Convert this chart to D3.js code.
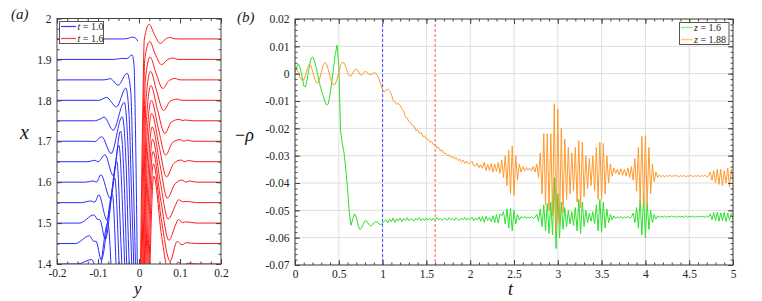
<!DOCTYPE html>
<html>
<head>
<meta charset="utf-8">
<script src="https://cdn.jsdelivr.net/npm/d3@7"></script>
<style>
body { margin: 0; background: #fff; }
svg { display: block; }
svg text { font-family: 'Liberation Serif', 'Times New Roman', Times, serif; }
</style>
</head>
<body>
<svg width="762" height="301"></svg>
<script>
// ---------- panel (a): profiles, [y, dx] in units of 0.01 ----------
const levels = [1.95, 1.9, 1.85, 1.8, 1.75, 1.7, 1.65, 1.6, 1.55, 1.5, 1.45, 1.4];

const blueProfiles = [
    [[-20,0],[-4,0],[-2.6,0.15],[-1.6,0.45],[-0.9,0.25],[-0.3,-0.5]],
    [[-20,0],[-6,0],[-4.2,0.25],[-3,0.2],[-1.7,1.1],[-1.2,-1.5],[-0.9,-15],[-0.3,-60]],
    [[-20,0],[-8.5,0],[-7,0.3],[-5.1,-1.3],[-2.9,1.6],[-2,-3],[-1.5,-20],[-0.5,-60]],
    [[-20,0],[-9.8,0],[-7.9,0.7],[-5.5,-1.6],[-3.2,3],[-2.4,-4],[-1.9,-20],[-0.7,-60]],
    [[-20,0],[-11,0],[-9.5,0.4],[-8.5,0.9],[-6.3,-2.3],[-3.6,4.5],[-2.7,-6],[-2.2,-22],[-0.9,-60]],
    [[-20,0],[-12,0],[-10.8,-0.1],[-9.1,1.1],[-6.8,-3],[-4.1,6],[-3.1,-7],[-2.6,-24],[-1,-60]],
    [[-20,0],[-12.5,0],[-10.8,0.35],[-10,0],[-8.3,1.7],[-6.3,-3.4],[-4.5,7.5],[-3.5,-8],[-3,-25],[-1.1,-60]],
    [[-20,0],[-13,0],[-11.2,0.3],[-10.4,0],[-9.3,1.8],[-7,-4],[-4.9,9],[-3.9,-9],[-3.3,-26],[-1.2,-60]],
    [[-20,0],[-14,0],[-11.8,0.4],[-10.8,0.1],[-9.8,1.9],[-7.8,-4.3],[-5.4,10],[-4.4,-10],[-3.7,-27],[-1.3,-60]],
    [[-20,0],[-14.5,0],[-11,2],[-10,0.8],[-9.6,0.9],[-8.2,-4],[-5.9,11],[-4.8,-11],[-4,-28],[-1.4,-60]],
    [[-20,0],[-15.5,0],[-12.1,1.9],[-11,0.5],[-10.5,0.6],[-9.2,-4],[-6.5,12],[-5.3,-12],[-4.4,-28],[-1.5,-60]],
    [[-20,0],[-15,0],[-11.5,1.1],[-10,-3],[-7.6,10],[-6.2,-13],[-5,-30],[-1.6,-60]]
];

const redProfiles = [
    [[0.3,-60],[0.8,-25],[1.3,0],[2.5,3.6],[3.7,1.2],[5.2,-1.1],[6.4,-0.1],[7.5,0.4],[8.6,0.05],[10,0],[20,0]],
    [[0.4,-60],[0.9,-25],[1.4,0],[2.6,4.4],[3.9,1.4],[5.5,-1.3],[6.9,-0.1],[8.3,0.35],[9.5,0],[11,0],[20,0]],
    [[0.55,-60],[1.05,-25],[1.55,0],[2.7,5.6],[4.1,1.8],[5.8,-2.1],[7.3,-0.2],[8.8,0.35],[10,0],[12,0],[20,0]],
    [[0.7,-60],[1.2,-25],[1.7,0],[2.8,7.1],[4.3,2.3],[6,-2.5],[7.6,-0.2],[9.3,0.3],[10.4,0],[12,0],[20,0]],
    [[0.8,-60],[1.3,-25],[1.8,0],[2.9,8.6],[4.5,2.7],[6.3,-3.1],[7.9,-0.3],[9.8,0.35],[10.7,0.05],[11.3,0.2],[13,0],[20,0]],
    [[0.9,-60],[1.4,-25],[1.9,0],[3,10],[4.7,3.2],[6.5,-3.4],[8.2,-0.3],[10,0.4],[11,0],[11.7,0.3],[13,0],[20,0]],
    [[1,-60],[1.5,-25],[2,0],[3.1,11.8],[4.9,3.8],[6.7,-3.7],[8.5,-0.4],[10.2,0.4],[11.2,0],[12,0.3],[14,0],[20,0]],
    [[1.15,-60],[1.65,-25],[2.15,0],[3.2,13.5],[5.1,4.3],[6.9,-3.9],[8.8,-0.4],[10.5,0.5],[11.5,0],[12.3,0.3],[14,0],[20,0]],
    [[1.3,-60],[1.8,-25],[2.3,0],[3.3,15.5],[5.2,5],[7.1,-4],[9,-0.4],[9.6,0.7],[10.8,0.2],[11.8,0.3],[14,0],[20,0]],
    [[1.45,-60],[1.95,-25],[2.45,0],[3.4,17.5],[5.3,5.6],[7.3,-4.2],[8.9,-0.5],[9.6,0.9],[10.6,0.1],[11.5,0.3],[14,0],[20,0]],
    [[1.6,-60],[2.1,-25],[2.6,0],[3.5,19.5],[5.4,6.2],[7.6,-4.3],[9.3,0.5],[10.5,-0.3],[11.5,0.2],[14,0],[20,0]],
    [[1.7,-60],[2.2,-25],[2.7,0],[3.6,21.5],[5.5,6.9],[7.8,-4.3],[9.5,0.5],[10.8,-0.3],[12,0.2],[14,0],[20,0]]
];

const aTicksX = [-0.2, -0.1, 0, 0.1, 0.2];
const aTickLabelsX = ["-0.2", "-0.1", "0", "0.1", "0.2"];
const aTicksY = [1.4, 1.5, 1.6, 1.7, 1.8, 1.9, 2.0];
const aTickLabelsY = ["1.4", "1.5", "1.6", "1.7", "1.8", "1.9", "2"];

// ---------- panel (b): -rho(t), sampled every 0.02, in units of 0.001 ----------
const tStep = 0.02;
const rhoZ16 = [
    0.5, 2.5, 3.5, 2, -1, -4.5, -4.8, -2, 2, 5.2,
    6.2, 5, 2.5, -0.5, -3.5, -6, -8, -10, -11.5, -11,
    -7.5, -3, 2, 7, 10.5, 3, -21, -25.5, -29, -35,
    -42, -51, -55.5, -53, -51.3, -52.5, -55.5, -57, -56.5, -55,
    -53.8, -54, -55, -55.7, -55.5, -54.6, -54.1, -54.3, -55, -55.2,
    -54.8, -54, -53.5, -54.6, -53.2, -54.2, -52.8, -54.4, -53.1, -53.9,
    -52.8, -54.1, -53, -53.7, -52.7, -53.8, -53.1, -53.3, -53.9, -52.9,
    -53.6, -52.7, -53.8, -53, -53.7, -52.8, -53.6, -52.9, -53.8, -52.8,
    -53.5, -52.6, -53.6, -52.9, -53.7, -53, -53.2, -53.6, -52.7, -53.5,
    -52.9, -53.7, -52.7, -53.4, -53.6, -52.8, -53.5, -52.6, -53.6, -52.9,
    -53.4, -52.5, -53.8, -52.8, -53.5, -52.4, -54, -52.3, -54.4, -52.2,
    -53.7, -52.6, -54.1, -52, -54.5, -51.6, -54.7, -51.3, -52, -50.5,
    -55, -49.5, -56.5, -49.3, -57.5, -50, -55, -51.5, -53.5, -52.3,
    -52.8, -52.2, -53, -52.4, -52.9, -52.3, -53, -52.5, -51.5, -54,
    -49.5, -56, -48, -57.5, -47.5, -58.5, -47, -59, -38, -64,
    -44, -60, -47, -57, -49, -56, -50, -55, -50.5, -55.5,
    -49, -57.5, -46, -58.5, -47, -56, -50, -54.5, -51, -54,
    -50.5, -55, -48, -57.5, -46, -58, -47, -56.5, -49.5, -54.5,
    -51.5, -53.5, -52, -53, -52.3, -52.8, -52.2, -52.9, -52.4, -52.7,
    -52.2, -52.9, -52.4, -51, -54.5, -49, -56.5, -46, -59, -44,
    -60, -47, -57, -50, -54.5, -51.5, -53.2, -52, -52.6, -52.2,
    -52.5, -52.1, -52.6, -52.2, -52.4, -52, -52.5, -52.2, -52.6, -52.1,
    -52.4, -52.2, -52.6, -52, -52.5, -52.3, -52.4, -52.1, -52.6, -52.2,
    -52.5, -52.1, -52.4, -52.2, -52.6, -52, -52.5, -51.3, -53.4, -50.8,
    -53.8, -50.7, -54, -50.9, -53.8, -50.8, -54.1, -51, -53.6, -51.2,
    -53
];
const rhoZ188 = [
    1, 1.5, 0.5, -1.5, -2.5, -2.3, -0.5, 1.8, 3.3, 3,
    1, -1.5, -3.2, -3.5, -2, 0.5, 3, 4.1, 3.5, 1.5,
    -1, -3.2, -4.1, -3.8, -2, 0.5, 3, 4.1, 4, 2.5,
    0.5, -0.8, -0.9, 0.2, 1.4, 1.7, 1, -0.3, -0.6, 0.2,
    0.8, 0.6, -0.1, -0.4, -0.1, 0.3, 0.2, -0.6, -2, -4,
    -6, -6.8, -6, -5.6, -6.2, -7.5, -9.8, -10.3, -11.2, -10.9,
    -11.5, -12.8, -13.6, -15.8, -16.2, -17.5, -17.9, -19, -19.2, -20.8,
    -20.5, -21.8, -21.6, -23, -22.8, -23.9, -24, -25, -24.8, -26,
    -25.8, -27.2, -26.9, -28.3, -27.9, -29.2, -29.1, -30, -29.8, -30.6,
    -30.3, -31.2, -30.7, -31.8, -31.2, -32.4, -31.6, -32.8, -32.1, -33,
    -32.6, -32, -33.6, -33.8, -32.8, -34.4, -33.3, -34.7, -32.4, -35.4,
    -33.2, -35.5, -32.8, -36, -33, -35.8, -32.5, -36.5, -31.5, -38,
    -30, -41, -28, -44, -26.5, -44.5, -30, -39, -33, -36,
    -34, -35.5, -34.3, -35.3, -34.5, -35.5, -34, -36, -33, -38,
    -29, -44, -22, -48, -22, -50, -22, -52, -11, -58,
    -13, -55, -20, -51, -24, -46, -27, -44, -29, -43,
    -27, -47, -24.5, -49, -25, -45, -30, -42, -31, -41,
    -30, -43, -27, -46, -25, -46, -25.5, -44, -30, -40,
    -33, -37.5, -34.5, -36.5, -35, -37, -34.8, -37.2, -35, -37.5,
    -34.5, -38, -34, -39, -31, -43, -27, -47, -23, -49,
    -22.7, -48, -27, -44, -33, -39.5, -36, -38, -37, -37.8,
    -37.2, -37.8, -37.3, -37.6, -37.1, -37.7, -37.3, -37.5, -37.2, -37.8,
    -37.3, -37.6, -37.2, -37.7, -37.4, -37.5, -37.1, -37.8, -37.3, -37.6,
    -37.2, -37.7, -37.3, -37.6, -37.1, -37.8, -37.4, -36, -39, -35.5,
    -40, -35, -40.5, -35, -41, -35.5, -40, -34.5, -41.5, -35,
    -39
];
const markerTimes = [1.0, 1.6];

const bTicksX = [0, 0.5, 1, 1.5, 2, 2.5, 3, 3.5, 4, 4.5, 5];
const bTickLabelsX = ["0", "0.5", "1", "1.5", "2", "2.5", "3", "3.5", "4", "4.5", "5"];
const bTicksY = [0.02, 0.01, 0, -0.01, -0.02, -0.03, -0.04, -0.05, -0.06, -0.07];
const bTickLabelsY = ["0.02", "0.01", "0", "-0.01", "-0.02", "-0.03", "-0.04", "-0.05", "-0.06", "-0.07"];

const svg = d3.select("svg");
const serif = "'Liberation Serif', 'Times New Roman', Times, serif";
const frameColor = "#444";
const labelColor = "#222";

// frame with inward ticks on all four sides
function drawFrame(g, xs, ys, xMajor, xLabels, xMinor, yMajor, yLabels, yMinor) {
    const [x0, x1] = xs.range();
    const [y0, y1] = ys.range();
    const fmt = (arr, labels) => (d) => labels[arr.indexOf(d)];

    const axes = [
        [d3.axisBottom(xs), `translate(0,${y0})`, xMajor, xMinor, fmt(xMajor, xLabels), 5],
        [d3.axisTop(xs), `translate(0,${y1})`, xMajor, xMinor, "", 5],
        [d3.axisLeft(ys), `translate(${x0},0)`, yMajor, yMinor, fmt(yMajor, yLabels), 5.5],
        [d3.axisRight(ys), `translate(${x1},0)`, yMajor, yMinor, "", 5]
    ];
    axes.forEach(([axis, tr, major, minor, f, pad]) => {
        g.append("g").attr("transform", tr)
            .call(axis.tickValues(minor).tickSize(-2.5).tickFormat(""));
        g.append("g").attr("transform", tr)
            .call(axis.tickValues(major).tickSize(-5).tickPadding(pad).tickFormat(f));
    });
    g.selectAll(".domain").remove();
    g.selectAll("g").attr("font-family", serif);
    g.selectAll(".tick line").attr("stroke", frameColor);
    g.selectAll(".tick text")
        .attr("fill", labelColor)
        .attr("font-size", 11.5)
        .attr("font-family", serif);

    g.append("rect")
        .attr("x", x0).attr("y", y1)
        .attr("width", x1 - x0).attr("height", y0 - y1)
        .attr("fill", "none")
        .attr("stroke", frameColor)
        .attr("stroke-width", 1);
}

function minorTicks(lo, hi, step) {
    return d3.range(Math.round((hi - lo) / step) + 1).map(i => lo + i * step);
}

// ================= panel (a) =================
const ax = d3.scaleLinear().domain([-0.2, 0.2]).range([57, 221]);
const ay = d3.scaleLinear().domain([1.4, 2.0]).range([264, 18.5]);

const ga = svg.append("g");
svg.append("clipPath").attr("id", "clipA")
    .append("rect")
    .attr("x", 57).attr("y", 18.5).attr("width", 164).attr("height", 245.5);

const profileLine = (level) => d3.line()
    .x(d => ax(d[0] / 100))
    .y(d => ay(level + d[1] / 100))
    .curve(d3.curveMonotoneX);

const curvesA = ga.append("g").attr("clip-path", "url(#clipA)").attr("fill", "none").attr("stroke-width", 1);

curvesA.selectAll("path.blue")
    .data(blueProfiles)
    .join("path")
    .attr("class", "blue")
    .attr("stroke", "#2b2bff")
    .attr("d", (d, i) => profileLine(levels[i])(d));

curvesA.selectAll("path.red")
    .data(redProfiles)
    .join("path")
    .attr("class", "red")
    .attr("stroke", "#ff1a1a")
    .attr("d", (d, i) => profileLine(levels[i])(d));

drawFrame(ga, ax, ay,
    aTicksX, aTickLabelsX, minorTicks(-0.2, 0.2, 0.025),
    aTicksY, aTickLabelsY, minorTicks(1.4, 2.0, 0.025));

// legend (a)
const legA = ga.append("g");
legA.append("rect")
    .attr("x", 59.5).attr("y", 21.5).attr("width", 44).attr("height", 22)
    .attr("fill", "#fff").attr("stroke", "#555");
[["#3b3bff", 26.5, "1.0"], ["#ff4040", 38.5, "1.6"]].forEach(([c, y, v]) => {
    legA.append("line").attr("x1", 61).attr("x2", 76).attr("y1", y).attr("y2", y)
        .attr("stroke", c).attr("stroke-width", 1.2);
    const tx = legA.append("text").attr("x", 77.5).attr("y", y + 3.3)
        .attr("font-size", 10).attr("fill", "#222");
    tx.append("tspan").attr("font-style", "italic").text("t");
    tx.append("tspan").text(" = " + v);
});

ga.append("text").attr("x", 11).attr("y", 19).attr("font-size", 15).attr("font-style", "italic")
    .attr("fill", "#222").text("(a)");
ga.append("text").attr("x", 20).attr("y", 139).attr("font-size", 20).attr("font-style", "italic")
    .attr("fill", "#111").text("x");
ga.append("text").attr("x", 134).attr("y", 294).attr("font-size", 17).attr("font-style", "italic")
    .attr("fill", "#111").text("y");

// ================= panel (b) =================
const bx = d3.scaleLinear().domain([0, 5]).range([295, 733]);
const by = d3.scaleLinear().domain([-0.07, 0.02]).range([265, 19]);

const gb = svg.append("g");
svg.append("clipPath").attr("id", "clipB")
    .append("rect")
    .attr("x", 295).attr("y", 19).attr("width", 438).attr("height", 246);

// grid
gb.append("g").selectAll("line")
    .data(bTicksX)
    .join("line")
    .attr("x1", d => bx(d)).attr("x2", d => bx(d))
    .attr("y1", 19).attr("y2", 265)
    .attr("stroke", "#dedede");
gb.append("g").selectAll("line")
    .data(bTicksY)
    .join("line")
    .attr("x1", 295).attr("x2", 733)
    .attr("y1", d => by(d)).attr("y2", d => by(d))
    .attr("stroke", "#dedede");

// marker lines
gb.append("g").selectAll("line")
    .data(markerTimes)
    .join("line")
    .attr("x1", d => bx(d)).attr("x2", d => bx(d))
    .attr("y1", 19).attr("y2", 265)
    .attr("stroke", (d, i) => i === 0 ? "#4a4aff" : "#ff5a5a")
    .attr("stroke-width", 1)
    .attr("stroke-dasharray", "3,2");

const rhoLine = d3.line()
    .x((d, i) => bx(i * tStep))
    .y(d => by(d / 1000));

const seriesB = gb.append("g").attr("clip-path", "url(#clipB)").attr("fill", "none").attr("stroke-width", 1);
seriesB.append("path").attr("stroke", "#2fe02f").attr("d", rhoLine(rhoZ16));
seriesB.append("path").attr("stroke", "#ff9a2e").attr("d", rhoLine(rhoZ188));

drawFrame(gb, bx, by,
    bTicksX, bTickLabelsX, minorTicks(0, 5, 0.1),
    bTicksY, bTickLabelsY, minorTicks(-0.07, 0.02, 0.002));

// legend (b)
const legB = gb.append("g");
legB.append("rect")
    .attr("x", 679.5).attr("y", 22.5).attr("width", 49.5).attr("height", 22)
    .attr("fill", "#fff").attr("stroke", "#555");
[["#8ff08f", 27.5, "1.6"], ["#ffc896", 39.5, "1.88"]].forEach(([c, y, v]) => {
    legB.append("line").attr("x1", 681).attr("x2", 693).attr("y1", y).attr("y2", y)
        .attr("stroke", c).attr("stroke-width", 1.5);
    const tx = legB.append("text").attr("x", 694).attr("y", y + 3.3)
        .attr("font-size", 10).attr("fill", "#222");
    tx.append("tspan").attr("font-style", "italic").text("z");
    tx.append("tspan").text(" = " + v);
});

gb.append("text").attr("x", 237).attr("y", 22).attr("font-size", 15).attr("font-style", "italic")
    .attr("fill", "#222").text("(b)");
gb.append("text").attr("x", 508).attr("y", 295).attr("font-size", 18).attr("font-style", "italic")
    .attr("fill", "#111").text("t");
const rhoLabel = gb.append("text").attr("x", 235).attr("y", 141).attr("font-size", 18).attr("fill", "#111");
rhoLabel.append("tspan").text("\u2212");
rhoLabel.append("tspan").attr("font-style", "italic").text("\u03c1");
</script>
</body>
</html>
